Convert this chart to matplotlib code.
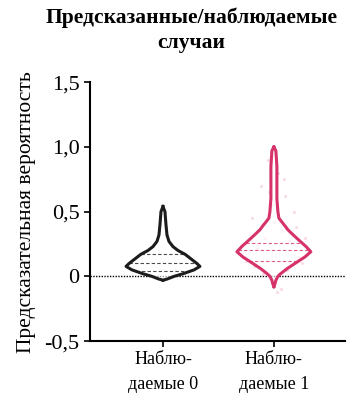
import matplotlib.pyplot as plt
import numpy as np

plt.rcParams["font.family"] = ["Liberation Serif", "DejaVu Serif"]

# Данные: профили скрипичных диаграмм (значение, полуширина)
groups = ["Наблю-\nдаемые 0", "Наблю-\nдаемые 1"]
colors = ["#1c1c1c", "#d6336a"]

black_vals = [0.54, 0.50, 0.40, 0.32, 0.27, 0.23, 0.20, 0.17, 0.13, 0.10,
              0.077, 0.05, 0.02, 0.0, -0.02, -0.03]
black_width = [0.0, 0.018, 0.027, 0.036, 0.054, 0.09, 0.135, 0.2, 0.26, 0.305,
               0.333, 0.28, 0.18, 0.1, 0.04, 0.0]
black_quart = [0.04, 0.10, 0.17]

red_vals = [1.0, 0.97, 0.85, 0.6, 0.5, 0.45, 0.42, 0.39, 0.36, 0.33, 0.28,
            0.23, 0.19, 0.15, 0.10, 0.06, 0.02, 0.0, -0.03, -0.06, -0.08]
red_width = [0.0, 0.018, 0.027, 0.027, 0.036, 0.045, 0.072, 0.1, 0.126, 0.162,
             0.225, 0.29, 0.333, 0.28, 0.19, 0.12, 0.06, 0.036, 0.018, 0.009, 0.0]
red_quart = [0.12, 0.20, 0.26]

# отдельные точки (светло-розовые) вокруг второй скрипки
red_pts_x = [-0.05, 0.04, -0.12, 0.1, -0.2, 0.18, -0.02, 0.07, -0.08, 0.14,
             -0.15, 0.22, 0.03, -0.25, 0.12, -0.04, 0.06, 0.0, -0.1, 0.09,
             0.28, -0.3, 0.2, -0.18, 0.25]
red_pts_y = [0.9, 0.8, 0.7, 0.62, 0.45, 0.5, 0.55, 0.35, 0.3, 0.27,
             0.22, 0.15, -0.12, 0.12, 0.05, 0.65, -0.1, 0.42, 0.02, 0.75,
             0.3, 0.2, 0.38, 0.08, 0.1]

profiles = [(black_vals, black_width, black_quart),
            (red_vals, red_width, red_quart)]

fig = plt.figure(figsize=(3.55, 4.07), dpi=100)
ax = fig.add_axes([0.2535, 0.162, 0.718, 0.636])

ax.scatter(np.array(red_pts_x) + 1, red_pts_y, s=5, color="#f4c4d2",
           alpha=0.6, linewidths=0, zorder=1)

for i, (vals, width, quart) in enumerate(profiles):
    v = np.array(vals)
    w = np.array(width)
    ax.fill_betweenx(v, i - w, i + w, facecolor="white", edgecolor="none",
                     alpha=0.6, zorder=2)
    ax.plot(i - w, v, color=colors[i], lw=2.2, zorder=3)
    ax.plot(i + w, v, color=colors[i], lw=2.2, zorder=3)
    order = np.argsort(v)
    for q in quart:
        hw = np.interp(q, v[order], w[order])
        ax.plot([i - hw, i + hw], [q, q], color=colors[i], lw=0.8,
                ls=(0, (3, 2)), alpha=0.8, zorder=3)

ax.axhline(0, color="black", lw=1, ls=(0, (1, 1)), zorder=0)

ax.set_xlim(-0.658, 1.64)
ax.set_ylim(-0.5, 1.5)
ax.set_yticks([-0.5, 0, 0.5, 1.0, 1.5])
ax.set_yticklabels(["-0,5", "0", "0,5", "1,0", "1,5"], fontsize=16)
ax.set_xticks([0, 1])
ax.set_xticklabels(groups, fontsize=13, linespacing=1.6)
ax.tick_params(axis="both", direction="out", length=4, width=1.2)
ax.spines["top"].set_visible(False)
ax.spines["right"].set_visible(False)
ax.spines["left"].set_linewidth(1.5)
ax.spines["bottom"].set_linewidth(1.5)

ax.set_ylabel("Предсказательная вероятность", fontsize=15.5, labelpad=6)
fig.text(0.54, 0.982, "Предсказанные/наблюдаемые\nслучаи", ha="center",
         va="top", fontsize=15.5, fontweight="bold", linespacing=1.32)

fig.savefig("out.png", dpi=100)
